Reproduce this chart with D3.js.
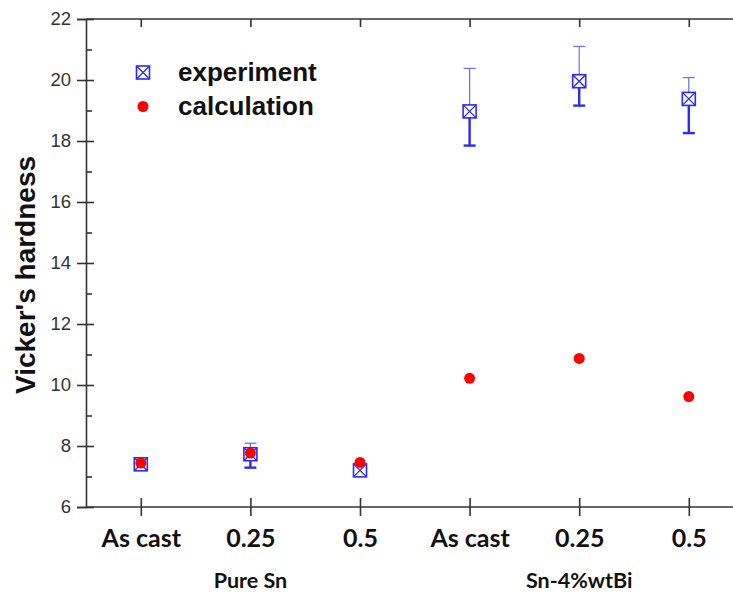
<!DOCTYPE html>
<html>
<head>
<meta charset="utf-8">
<script src="https://cdn.jsdelivr.net/npm/d3@7"></script>
<style>
  body { margin: 0; background: #fff; }
  svg { display: block; }
</style>
</head>
<body>
<div class="container"></div>
<script>
var categories = ['As cast', '0.25', '0.5', 'As cast', '0.25', '0.5'];
var groups = ['Pure Sn', 'Sn-4%wtBi'];
var experiment = [7.40, 7.73, 7.20, 18.97, 19.96, 19.38];
var expLow = [7.36, 7.29, 7.16, 17.85, 19.16, 18.26];
var expHigh = [7.44, 8.09, 7.24, 20.38, 21.10, 20.08];
var calculation = [7.44, 7.77, 7.46, 10.22, 10.87, 9.62];
var yTicks = [6, 8, 10, 12, 14, 16, 18, 20, 22];
var yMinor = [7, 9, 11, 13, 15, 17, 19, 21];

var W = 733, H = 594;
var plotLeft = 86, plotTop = 19, plotBottom = 507;

var svg = d3.select('.container').append('svg')
	.attr('width', W)
	.attr('height', H);

var idx = d3.range(categories.length);
var x = d3.scalePoint().domain(idx).range([plotLeft, 743.6]).padding(0.5);
var y = d3.scaleLinear().domain([6, 22]).range([plotBottom, plotTop]);

var axisColor = '#333';

// left axis
var yAxis = svg.append('g')
	.attr('transform', 'translate(' + plotLeft + ',0)')
	.call(d3.axisLeft(y).tickValues(yTicks).tickSize(9).tickPadding(6));
yAxis.selectAll('.tick line').attr('x1', 8);
yAxis.selectAll('.tick text')
	.style('font-family', 'Liberation Sans, Arial, sans-serif')
	.style('font-size', '18.5px')
	.attr('fill', '#333');

svg.append('g')
	.attr('transform', 'translate(' + plotLeft + ',0)')
	.call(d3.axisLeft(y).tickValues(yMinor).tickSize(-6).tickFormat(''))
	.select('.domain').remove();

// bottom axis
var xAxis = svg.append('g')
	.attr('transform', 'translate(0,' + plotBottom + ')')
	.call(d3.axisBottom(x).tickSize(9).tickPadding(13).tickSizeOuter(0)
		.tickFormat(function(i) { return categories[i]; }));
xAxis.select('.domain').attr('d', 'M' + plotLeft + ',0H' + W);
xAxis.selectAll('.tick line').attr('y1', -9);
xAxis.selectAll('.tick text')
	.style('font-family', 'Lato, sans-serif')
	.style('font-weight', 'bold')
	.style('font-size', '25px')
	.attr('fill', '#111');

// top axis
var topAxis = svg.append('g')
	.attr('transform', 'translate(0,' + plotTop + ')')
	.call(d3.axisTop(x).tickSize(-8).tickSizeOuter(0).tickFormat(''));
topAxis.select('.domain').attr('d', 'M' + plotLeft + ',0H' + W);

svg.selectAll('.domain, .tick line')
	.attr('stroke', axisColor)
	.attr('stroke-width', 1.6);

// group labels
groups.forEach(function(g, k) {
	svg.append('text')
		.attr('x', x(k * 3 + 1))
		.attr('y', 588)
		.attr('text-anchor', 'middle')
		.style('font-family', 'Lato, sans-serif')
		.style('font-weight', 'bold')
		.style('font-size', '21.5px')
		.attr('fill', '#111')
		.text(g);
});

// y label
svg.append('text')
	.attr('transform', 'translate(35,275) rotate(-90)')
	.attr('text-anchor', 'middle')
	.style('font-family', 'Liberation Sans, Arial, sans-serif')
	.style('font-weight', 'bold')
	.style('font-size', '28px')
	.attr('fill', '#111')
	.text("Vicker's hardness");

var blue = '#2a2aff';

function drawMarker(sel, cx, cy) {
	var s = 6.5;
	sel.append('rect')
		.attr('x', cx - s).attr('y', cy - s)
		.attr('width', 2 * s).attr('height', 2 * s)
		.attr('fill', '#fff')
		.attr('stroke', blue)
		.attr('stroke-width', 1.6);
	sel.append('path')
		.attr('d', 'M' + (cx - s) + ',' + (cy - s) + 'L' + (cx + s) + ',' + (cy + s) +
			'M' + (cx + s) + ',' + (cy - s) + 'L' + (cx - s) + ',' + (cy + s))
		.attr('stroke', blue)
		.attr('stroke-width', 1.3);
}

// error bars
var err = svg.append('g');
idx.forEach(function(i) {
	var cx = x(i);
	// upper half, thin
	err.append('line')
		.attr('x1', cx).attr('x2', cx)
		.attr('y1', y(experiment[i])).attr('y2', y(expHigh[i]))
		.attr('stroke', '#6a6aff').attr('stroke-width', 1.2);
	err.append('line')
		.attr('x1', cx - 6).attr('x2', cx + 6)
		.attr('y1', y(expHigh[i])).attr('y2', y(expHigh[i]))
		.attr('stroke', '#6a6aff').attr('stroke-width', 1.2);
	// lower half, thick
	err.append('line')
		.attr('x1', cx).attr('x2', cx)
		.attr('y1', y(experiment[i])).attr('y2', y(expLow[i]))
		.attr('stroke', blue).attr('stroke-width', 2.4);
	err.append('line')
		.attr('x1', cx - 6).attr('x2', cx + 6)
		.attr('y1', y(expLow[i])).attr('y2', y(expLow[i]))
		.attr('stroke', blue).attr('stroke-width', 2.4);
});

var marks = svg.append('g');
idx.forEach(function(i) {
	drawMarker(marks, x(i), y(experiment[i]));
});

svg.append('g').selectAll('circle')
	.data(calculation)
	.join('circle')
	.attr('cx', function(d, i) { return x(i); })
	.attr('cy', function(d) { return y(d); })
	.attr('r', 5.5)
	.attr('fill', '#ff0000');

// legend
var legend = svg.append('g');
drawMarker(legend, 143, 72.5);
legend.append('circle')
	.attr('cx', 143).attr('cy', 106.5)
	.attr('r', 5.5)
	.attr('fill', '#ff0000');
[['experiment', 81], ['calculation', 115]].forEach(function(l) {
	legend.append('text')
		.attr('x', 178)
		.attr('y', l[1])
		.style('font-family', 'Liberation Sans, Arial, sans-serif')
		.style('font-weight', 'bold')
		.style('font-size', '26px')
		.attr('fill', '#111')
		.text(l[0]);
});
</script>
</body>
</html>
